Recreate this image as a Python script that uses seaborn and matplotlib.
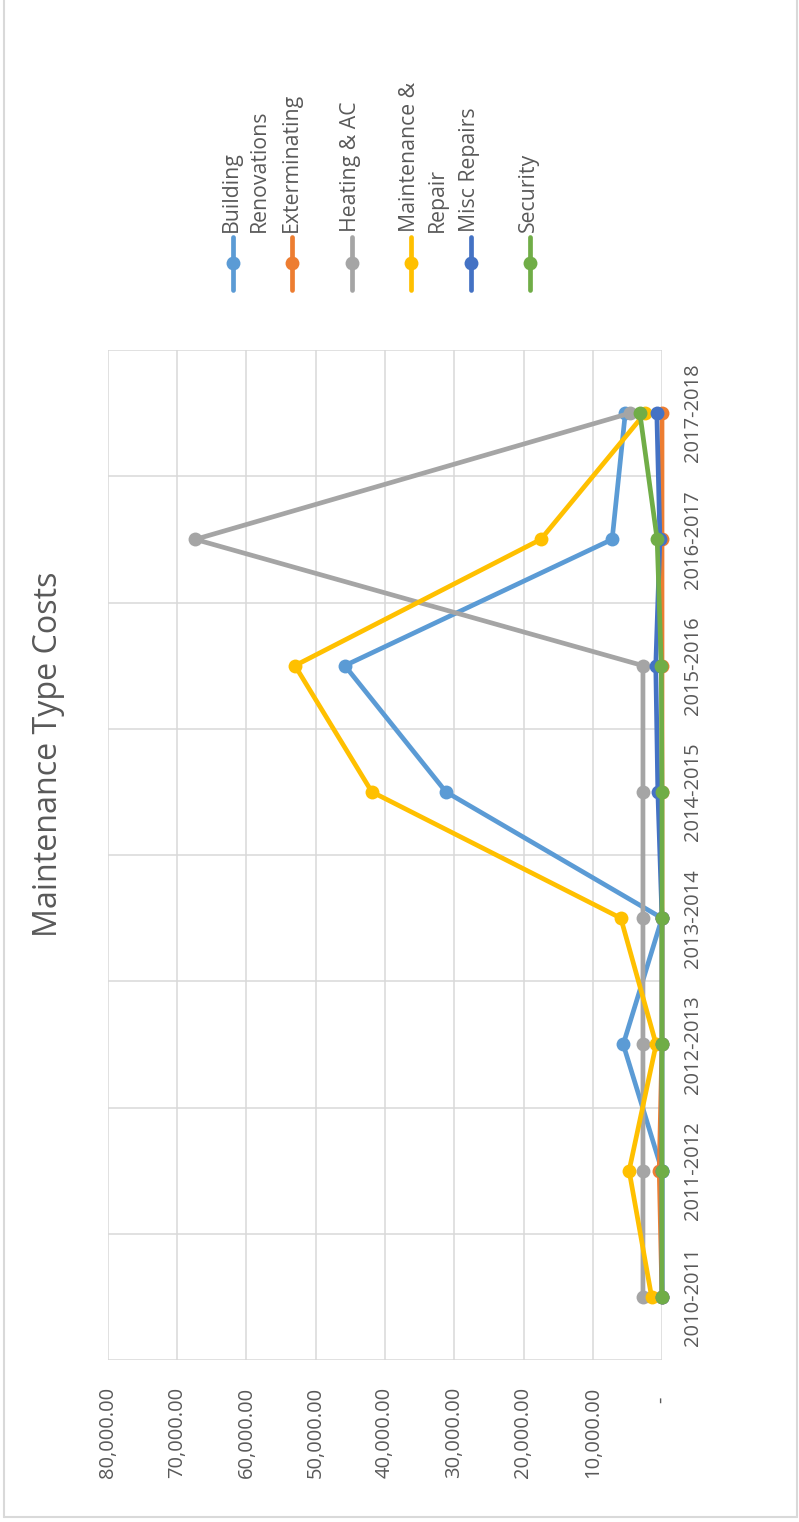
import numpy as np
import pandas as pd
import matplotlib
matplotlib.use("Agg")
import matplotlib.pyplot as plt
import seaborn as sns
from matplotlib.lines import Line2D

categories = ["2010-2011", "2011-2012", "2012-2013", "2013-2014",
              "2014-2015", "2015-2016", "2016-2017", "2017-2018"]
building_renovations = [0, 0, 5600, 0, 31200, 45800, 7200, 5300]
exterminating = [0, 400, 0, 0, 0, 0, 0, 0]
heating_ac = [2750, 2750, 2750, 2750, 2750, 2750, 67400, 4600]
maintenance_repair = [1500, 4750, 850, 5950, 41900, 53000, 17500, 2450]
misc_repairs = [0, 0, 0, 0, 600, 900, 300, 750]
security = [0, 0, 0, 0, 0, 100, 700, 3200]

series_names = ["Building Renovations", "Exterminating", "Heating & AC",
                "Maintenance & Repair", "Misc Repairs", "Security"]
legend_labels = ["Building\nRenovations", "Exterminating", "Heating & AC",
                 "Maintenance &\nRepair", "Misc Repairs", "Security"]
colors = ["#5B9BD5", "#ED7D31", "#A5A5A5", "#FFC000", "#4472C4", "#70AD47"]
value_ticks = [0, 10000, 20000, 30000, 40000, 50000, 60000, 70000, 80000]
value_tick_labels = ["-  ", "10,000.00", "20,000.00", "30,000.00", "40,000.00",
                     "50,000.00", "60,000.00", "70,000.00", "80,000.00"]
title = "Maintenance Type Costs"

sns.set_style("white")
plt.rcParams["font.family"] = ["Open Sans", "DejaVu Sans"]

all_vals = [building_renovations, exterminating, heating_ac,
            maintenance_repair, misc_repairs, security]
rows = []
for name, vals in zip(series_names, all_vals):
    for i, v in enumerate(vals):
        rows.append({"series": name, "pos": i, "value": v})
df = pd.DataFrame(rows)

W, H = 799, 1522
fig = plt.figure(figsize=(W / 100, H / 100), dpi=100)
fig.patch.set_facecolor("white")
left, right, top, bottom = 108, 662, 350, 1360
ax = fig.add_axes([left / W, 1 - bottom / H, (right - left) / W, (bottom - top) / H])

sns.lineplot(data=df, x="value", y="pos", hue="series", hue_order=series_names,
             palette=colors, orient="y", sort=True, errorbar=None,
             marker="o", markersize=10, markeredgewidth=0, linewidth=3.4,
             legend=False, ax=ax, clip_on=False, zorder=3,
             solid_capstyle="round", solid_joinstyle="round")

ax.set_xlim(80000, 0)
ax.set_ylim(-0.5, 7.5)
ax.set_xlabel("")
ax.set_ylabel("")
for s in ax.spines.values():
    s.set_visible(False)

ax.set_xticks(value_ticks, value_tick_labels)
ax.tick_params(axis="x", labelrotation=90, length=0, pad=19,
               labelsize=14.5, labelcolor="#595959")

ax.yaxis.tick_right()
ax.set_yticks(range(len(categories)), categories)
ax.set_yticks(np.arange(-0.5, len(categories), 1), minor=True)
ax.tick_params(axis="y", which="both", length=0)
ax.tick_params(axis="y", which="major", labelrotation=90, pad=15,
               labelsize=14.5, labelcolor="#595959")
for lab in ax.get_yticklabels():
    lab.set_va("center")

ax.grid(False)
ax.grid(axis="x", which="major", color="#D9D9D9", lw=1.1)
ax.grid(axis="y", which="minor", color="#D9D9D9", lw=1.1)
ax.set_axisbelow(True)

fig.text(49 / W, 1 - 754 / H, title, rotation=90, ha="center", va="center",
         fontsize=23.2, color="#595959")

for i, (lab, col) in enumerate(zip(legend_labels, colors)):
    xp = 233 + i * 59.4
    x = xp / W
    fig.add_artist(Line2D([x, x], [1 - 237 / H, 1 - 290 / H], transform=fig.transFigure,
                          color=col, lw=3.4, solid_capstyle="round"))
    fig.add_artist(Line2D([x], [1 - 263 / H], transform=fig.transFigure,
                          color=col, marker="o", ms=10, mew=0, lw=0))
    fig.text((xp - 12) / W, 1 - 232 / H, lab, rotation=90, ha="left", va="bottom",
             fontsize=15.3, color="#595959", linespacing=1.4)

bc = "#D9D9D9"
fig.add_artist(Line2D([4 / W, 4 / W], [1 - 1517 / H, 1], transform=fig.transFigure, color=bc, lw=1.5))
fig.add_artist(Line2D([797 / W, 797 / W], [1 - 1517 / H, 1], transform=fig.transFigure, color=bc, lw=1.5))
fig.add_artist(Line2D([4 / W, 797 / W], [1 - 1517 / H, 1 - 1517 / H], transform=fig.transFigure, color=bc, lw=1.5))

fig.savefig("out.png", dpi=100, facecolor="white")
